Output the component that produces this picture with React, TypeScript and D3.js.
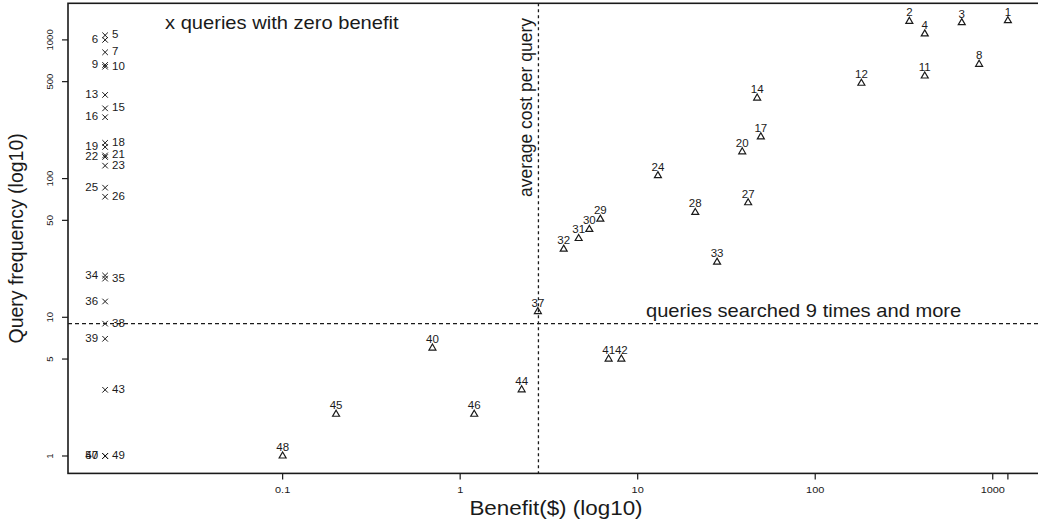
import React from 'react';
import * as d3 from 'd3';

// queries with a positive benefit (plotted as triangles)
const benefitIds = [1, 2, 3, 4, 8, 11, 12, 14, 17, 20, 24, 27, 28, 29, 30, 31, 32, 33, 37, 40, 41, 42, 44, 45, 46, 48];
const benefitValues = [1217, 339, 669, 414, 838, 414, 182, 47.1, 49.4, 38.8, 13.0, 41.9, 21.1, 6.16, 5.34, 4.65, 3.83, 28.0, 2.74, 0.698, 6.86, 8.09, 2.22, 0.2, 1.2, 0.1];
const benefitFreqs = [1375, 1361, 1331, 1104, 667, 549, 487, 381, 200, 156, 105, 67, 57, 51, 43, 37, 31, 25, 11, 6, 5, 5, 3, 2, 2, 1];

// queries with zero benefit (plotted as x at the far left)
const zeroIds = [5, 6, 7, 9, 10, 13, 15, 16, 18, 19, 21, 22, 23, 25, 26, 34, 35, 36, 38, 39, 43, 47, 49, 50];
const zeroFreqs = [1080, 1000, 814, 660, 640, 401, 321, 277, 181, 169, 147, 143, 124, 86, 74, 20, 19, 13, 9, 7, 3, 1, 1, 1];
const zeroPosition = 0.01;

const xTicks = [0.1, 1, 10, 100, 1000];
const yTicks = [1, 5, 10, 50, 100, 500, 1000];
const avgCost = 2.76;
const minFreq = 9;

const W = 1038;
const H = 527;
const plot = { left: 68, right: 1044, top: 3.3, bottom: 473.4 };
const font = 'Liberation Sans, Arial, Helvetica, sans-serif';
const ink = '#1a1a1a';
const stretch = 1.15;

function padLog(lo: number, hi: number) {
  const a = Math.log10(lo), b = Math.log10(hi);
  const p = (b - a) * 0.04;
  return [Math.pow(10, a - p), Math.pow(10, b + p)];
}

export default function App() {
  const x = d3.scaleLog()
    .domain(padLog(zeroPosition, d3.max(benefitValues)!))
    .range([plot.left + 1, plot.right]);
  const y = d3.scaleLog()
    .domain(padLog(1, d3.max([...benefitFreqs, ...zeroFreqs])!))
    .range([plot.bottom, plot.top]);

  const tri = d3.symbol(d3.symbolTriangle, 21)()!;
  const cross = d3.symbol(d3.symbolTimes, 22)()!;
  const maxBenefit = d3.max(benefitValues)!;

  return (
    <div style={{ position: 'absolute', left: 0, top: 0 }}>
      <svg width={W} height={H} style={{ display: 'block', background: '#fff' }} fontFamily={font}>
        {/* box */}
        <rect x={plot.left} y={plot.top} width={plot.right - plot.left} height={plot.bottom - plot.top}
          fill="none" stroke={ink} strokeWidth={1.6} />

        {/* x axis */}
        {[...xTicks, maxBenefit].map((t, i) => (
          <line key={'xt' + i} x1={x(t)} x2={x(t)} y1={plot.bottom} y2={plot.bottom + 6} stroke={ink} strokeWidth={1.2} />
        ))}
        {xTicks.map(t => (
          <g key={'xl' + t} transform={`translate(${x(t)},493) scale(${stretch},1)`}>
            <text textAnchor="middle" fontSize={9.5} fill={ink}>{String(t)}</text>
          </g>
        ))}

        {/* y axis */}
        {yTicks.map(t => (
          <g key={'yt' + t}>
            <line x1={plot.left - 6} x2={plot.left} y1={y(t)} y2={y(t)} stroke={ink} strokeWidth={1.2} />
            <text transform={`translate(52.5,${y(t)}) rotate(-90)`} textAnchor="middle" fontSize={9.5} fill={ink}>{String(t)}</text>
          </g>
        ))}

        {/* axis titles */}
        <g transform={`translate(${(plot.left + plot.right) / 2},515) scale(${stretch},1)`}>
          <text textAnchor="middle" fontSize={19.5} fill={ink}>Benefit($) (log10)</text>
        </g>
        <text transform={`translate(23,${(plot.top + plot.bottom) / 2}) rotate(-90)`} textAnchor="middle" fontSize={19.5} fill={ink}>
          Query frequency (log10)
        </text>

        {/* reference lines */}
        <line x1={x(avgCost)} x2={x(avgCost)} y1={plot.top} y2={plot.bottom} stroke={ink} strokeWidth={1.3} strokeDasharray="3,3" />
        <line x1={plot.left} x2={plot.right} y1={y(minFreq)} y2={y(minFreq)} stroke={ink} strokeWidth={1.3} strokeDasharray="4,3" />

        <text transform={`translate(${x(avgCost) - 6},18) rotate(-90)`} textAnchor="end" fontSize={17.5} fill={ink}>
          average cost per query
        </text>
        <g transform={`translate(646,317) scale(${stretch},1)`}>
          <text fontSize={17.5} fill={ink}>queries searched 9 times and more</text>
        </g>
        <g transform={`translate(165,29) scale(${stretch},1)`}>
          <text fontSize={17.5} fill={ink}>x queries with zero benefit</text>
        </g>

        {/* benefit > 0 */}
        {benefitIds.map((id, i) => (
          <g key={'b' + id} transform={`translate(${x(benefitValues[i])},${y(benefitFreqs[i])})`}>
            <path d={tri} fill="none" stroke={ink} strokeWidth={1.2} />
            <text y={-5} textAnchor="middle" fontSize={11.5} fill={ink}>{id}</text>
          </g>
        ))}

        {/* zero benefit */}
        {zeroIds.map((id, i) => {
          const right = i % 2 === 0;
          return (
            <g key={'z' + id} transform={`translate(${x(zeroPosition)},${y(zeroFreqs[i])})`}>
              <path d={cross} fill="none" stroke={ink} strokeWidth={1} />
              <text x={right ? 7 : -7} y={-1} dy="0.35em" textAnchor={right ? 'start' : 'end'} fontSize={11.5} fill={ink}>{id}</text>
            </g>
          );
        })}
      </svg>
    </div>
  );
}
